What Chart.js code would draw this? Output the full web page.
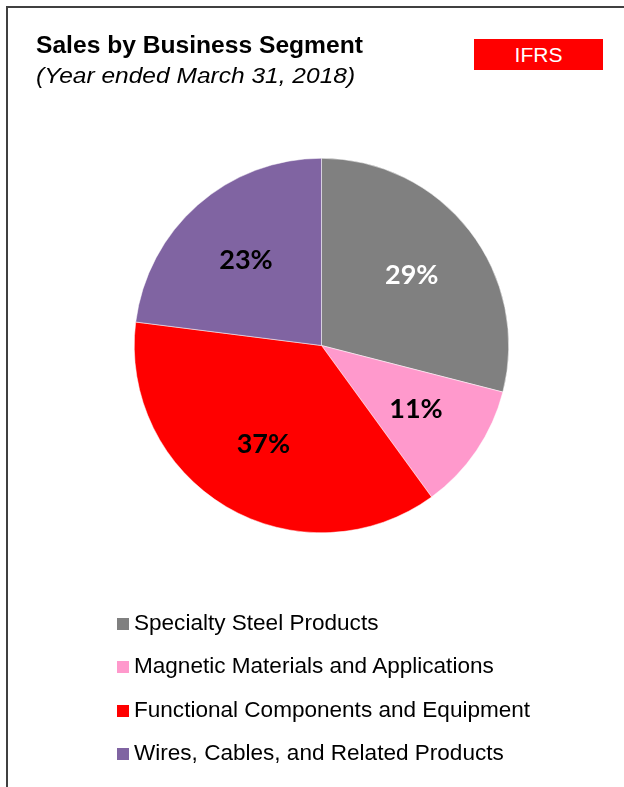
<!DOCTYPE html>
<html>
<head>
<meta charset="utf-8">
<script src="https://cdn.jsdelivr.net/npm/chart.js@4/dist/chart.umd.min.js"></script>
<style>
  html, body { margin: 0; padding: 0; background: #fff; }
  body { width: 624px; height: 787px; position: relative; overflow: hidden; font-family: "Liberation Sans", Arial, sans-serif; }
  .frame { position: absolute; left: 6px; top: 6px; width: 700px; height: 900px; border-left: 2px solid #404040; border-top: 2px solid #404040; }
  .title { position: absolute; left: 36px; top: 32px; font-size: 23px; font-weight: bold; color: #000; white-space: nowrap; transform: scaleX(1.07); transform-origin: 0 0; }
  .subtitle { position: absolute; left: 36px; top: 63px; font-size: 22px; font-style: italic; color: #000; white-space: nowrap; transform: scaleX(1.115); transform-origin: 0 0; }
  .badge { position: absolute; left: 474px; top: 39px; width: 129px; height: 31px; background: #ff0000; color: #fff; font-size: 21px; line-height: 31px; text-align: center; }
  #wrap { position: absolute; left: 0; top: 0; width: 624px; height: 787px; }
  #legend { position: absolute; left: 117px; top: 610px; margin: 0; padding: 0; list-style: none; }
  #legend li { height: 43.3px; display: flex; align-items: flex-start; font-size: 22px; color: #000; white-space: nowrap; }
  #legend .sw { width: 12px; height: 12px; margin-top: 8px; margin-right: 5px; flex: none; }
  #legend .txt { display: inline-block; transform: scaleX(1.025); transform-origin: 0 0; }
</style>
</head>
<body>
<div class="frame"></div>
<div id="wrap"><canvas id="chart" width="624" height="787"></canvas></div>
<div class="title">Sales by Business Segment</div>
<div class="subtitle">(Year ended March 31, 2018)</div>
<div class="badge">IFRS</div>
<ul id="legend"></ul>
<script>
// Segment names, shares (%) and slice colours
const segments = [
  "Specialty Steel Products",
  "Magnetic Materials and Applications",
  "Functional Components and Equipment",
  "Wires, Cables, and Related Products"
];
const shares = [29, 11, 37, 23];
const sliceColors = ["#808080", "#ff99cc", "#ff0000", "#8064a2"];
const labelColors = ["#ffffff", "#000000", "#000000", "#000000"];

// Percentage labels placed inside each slice along its mid-angle
const sliceLabels = {
  id: "sliceLabels",
  afterDatasetsDraw(chart) {
    const ctx = chart.ctx;
    const meta = chart.getDatasetMeta(0);
    ctx.save();
    ctx.font = "bold 27px Lato, 'Open Sans', sans-serif";
    ctx.textAlign = "center";
    ctx.textBaseline = "middle";
    meta.data.forEach((arc, i) => {
      const p = arc.getProps(["x", "y", "startAngle", "endAngle", "outerRadius"], true);
      const mid = (p.startAngle + p.endAngle) / 2;
      const r = p.outerRadius * 0.61;
      ctx.fillStyle = labelColors[i];
      ctx.fillText(shares[i] + "%", p.x + Math.cos(mid) * r, p.y + Math.sin(mid) * r);
    });
    ctx.restore();
  }
};

new Chart(document.getElementById("chart"), {
  type: "pie",
  data: {
    labels: segments,
    datasets: [{
      data: shares,
      backgroundColor: sliceColors,
      borderColor: "#ffffff",
      borderWidth: 0.5
    }]
  },
  options: {
    responsive: false,
    animation: false,
    layout: { padding: { top: 158, bottom: 254, left: 134, right: 115 } },
    plugins: {
      legend: { display: false },
      tooltip: { enabled: false }
    }
  },
  plugins: [sliceLabels]
});

// Legend list built from the same segment data
const legend = document.getElementById("legend");
segments.forEach((name, i) => {
  const li = document.createElement("li");
  const sw = document.createElement("span");
  sw.className = "sw";
  sw.style.background = sliceColors[i];
  const txt = document.createElement("span");
  txt.className = "txt";
  txt.textContent = name;
  li.appendChild(sw);
  li.appendChild(txt);
  legend.appendChild(li);
});
</script>
</body>
</html>
